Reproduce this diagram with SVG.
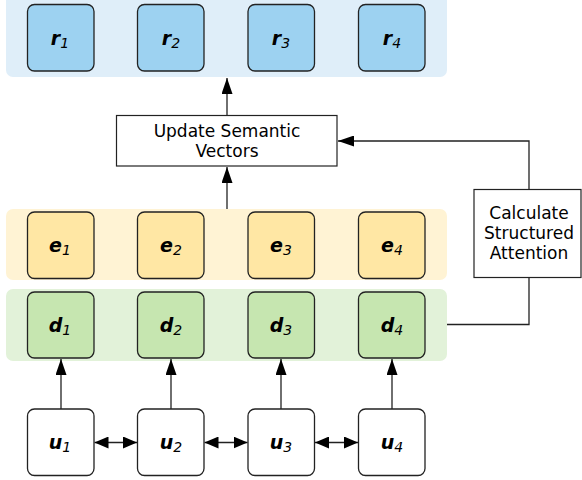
<svg xmlns="http://www.w3.org/2000/svg" width="582" height="480" viewBox="0 0 582 480">
<defs>
<style>
.bandR{fill:#dfeef9}
.bandE{fill:#fff3d4}
.bandD{fill:#e2f2d9}
.box{stroke:#222;stroke-width:1.3}
.r{fill:#9dd2f1}
.e{fill:#ffe7a4}
.d{fill:#c6e6b0}
.u{fill:#fff}
.lbl{font-family:"DejaVu Sans",sans-serif;font-size:19px;font-weight:bold;font-style:italic;fill:#000}
.sub{font-family:"DejaVu Sans",sans-serif;font-size:14px;font-weight:normal;font-style:italic}
.t{font-family:"DejaVu Sans",sans-serif;font-size:17px;fill:#000;text-anchor:middle}
.pbox{fill:#fff;stroke:#222;stroke-width:1.2}
.ln{fill:none;stroke:#222;stroke-width:1.3}
</style>
<marker id="ahb" viewBox="0 0 16 11" refX="16" refY="5.5" markerWidth="16" markerHeight="11" markerUnits="userSpaceOnUse" orient="auto-start-reverse" preserveAspectRatio="none">
<path d="M0,0 L16,5.5 L0,11 z" fill="#000"/>
</marker>
<marker id="ahs" viewBox="0 0 14 12" refX="14" refY="6" markerWidth="14" markerHeight="12" markerUnits="userSpaceOnUse" orient="auto-start-reverse" preserveAspectRatio="none">
<path d="M0,0 L14,6 L0,12 z" fill="#000"/>
</marker>
</defs>
<g id="bands">
<rect class="bandR" x="6" y="-6" width="441" height="83" rx="7"/>
<rect class="bandE" x="6" y="209" width="441" height="71" rx="7"/>
<rect class="bandD" x="6" y="289" width="441" height="72" rx="7"/>
</g>
<g id="r1"><rect class="box r" x="27.5" y="4.5" width="66.5" height="66.5" rx="7"/><text class="lbl" x="60" y="45" text-anchor="middle">r<tspan class="sub" dy="3">1</tspan></text></g>
<g id="r2"><rect class="box r" x="137.5" y="4.5" width="66.5" height="66.5" rx="7"/><text class="lbl" x="171" y="45" text-anchor="middle">r<tspan class="sub" dy="3">2</tspan></text></g>
<g id="r3"><rect class="box r" x="248" y="4.5" width="66.5" height="66.5" rx="7"/><text class="lbl" x="281" y="45" text-anchor="middle">r<tspan class="sub" dy="3">3</tspan></text></g>
<g id="r4"><rect class="box r" x="358.5" y="4.5" width="66.5" height="66.5" rx="7"/><text class="lbl" x="392" y="45" text-anchor="middle">r<tspan class="sub" dy="3">4</tspan></text></g>
<g id="e1"><rect class="box e" x="27.5" y="212" width="66.5" height="66.5" rx="7"/><text class="lbl" x="60" y="252" text-anchor="middle">e<tspan class="sub" dy="3">1</tspan></text></g>
<g id="e2"><rect class="box e" x="137.5" y="212" width="66.5" height="66.5" rx="7"/><text class="lbl" x="171" y="252" text-anchor="middle">e<tspan class="sub" dy="3">2</tspan></text></g>
<g id="e3"><rect class="box e" x="248" y="212" width="66.5" height="66.5" rx="7"/><text class="lbl" x="281" y="252" text-anchor="middle">e<tspan class="sub" dy="3">3</tspan></text></g>
<g id="e4"><rect class="box e" x="358.5" y="212" width="66.5" height="66.5" rx="7"/><text class="lbl" x="392" y="252" text-anchor="middle">e<tspan class="sub" dy="3">4</tspan></text></g>
<g id="d1"><rect class="box d" x="27.5" y="292" width="66.5" height="66" rx="7"/><text class="lbl" x="60" y="332" text-anchor="middle">d<tspan class="sub" dy="3">1</tspan></text></g>
<g id="d2"><rect class="box d" x="137.5" y="292" width="66.5" height="66" rx="7"/><text class="lbl" x="171" y="332" text-anchor="middle">d<tspan class="sub" dy="3">2</tspan></text></g>
<g id="d3"><rect class="box d" x="248" y="292" width="66.5" height="66" rx="7"/><text class="lbl" x="281" y="332" text-anchor="middle">d<tspan class="sub" dy="3">3</tspan></text></g>
<g id="d4"><rect class="box d" x="358.5" y="292" width="66.5" height="66" rx="7"/><text class="lbl" x="392" y="332" text-anchor="middle">d<tspan class="sub" dy="3">4</tspan></text></g>
<g id="u1"><rect class="box u" x="27.5" y="409" width="66.5" height="66.5" rx="7"/><text class="lbl" x="60" y="449" text-anchor="middle">u<tspan class="sub" dy="3">1</tspan></text></g>
<g id="u2"><rect class="box u" x="137.5" y="409" width="66.5" height="66.5" rx="7"/><text class="lbl" x="171" y="449" text-anchor="middle">u<tspan class="sub" dy="3">2</tspan></text></g>
<g id="u3"><rect class="box u" x="248" y="409" width="66.5" height="66.5" rx="7"/><text class="lbl" x="281" y="449" text-anchor="middle">u<tspan class="sub" dy="3">3</tspan></text></g>
<g id="u4"><rect class="box u" x="358.5" y="409" width="66.5" height="66.5" rx="7"/><text class="lbl" x="392" y="449" text-anchor="middle">u<tspan class="sub" dy="3">4</tspan></text></g>
<g id="update"><rect class="pbox" x="116.5" y="115.5" width="220.5" height="50.5"/><text class="t" x="227" y="137">Update Semantic</text><text class="t" x="227" y="157">Vectors</text></g>
<g id="attention"><rect class="pbox" x="474" y="189.5" width="107" height="88"/><text class="t" x="529" y="219">Calculate</text><text class="t" x="529" y="239">Structured</text><text class="t" x="529" y="259">Attention</text></g>
<g id="connectors">
<path class="ln" d="M227,115 V78" marker-end="url(#ahb)"/>
<path class="ln" d="M227,209 V167" marker-end="url(#ahb)"/>
<path class="ln" d="M61,409 V359" marker-end="url(#ahb)"/>
<path class="ln" d="M171,409 V359" marker-end="url(#ahb)"/>
<path class="ln" d="M281,409 V359" marker-end="url(#ahb)"/>
<path class="ln" d="M392,409 V359" marker-end="url(#ahb)"/>
<path class="ln" d="M94.5,442.5 H137" marker-start="url(#ahs)" marker-end="url(#ahs)"/>
<path class="ln" d="M204.5,442.5 H247.5" marker-start="url(#ahs)" marker-end="url(#ahs)"/>
<path class="ln" d="M315,442.5 H358" marker-start="url(#ahs)" marker-end="url(#ahs)"/>
<path class="ln" d="M447,324.5 H529 V278"/>
<path class="ln" d="M529,189.5 V141 H338" marker-end="url(#ahb)"/>
</g>
</svg>
